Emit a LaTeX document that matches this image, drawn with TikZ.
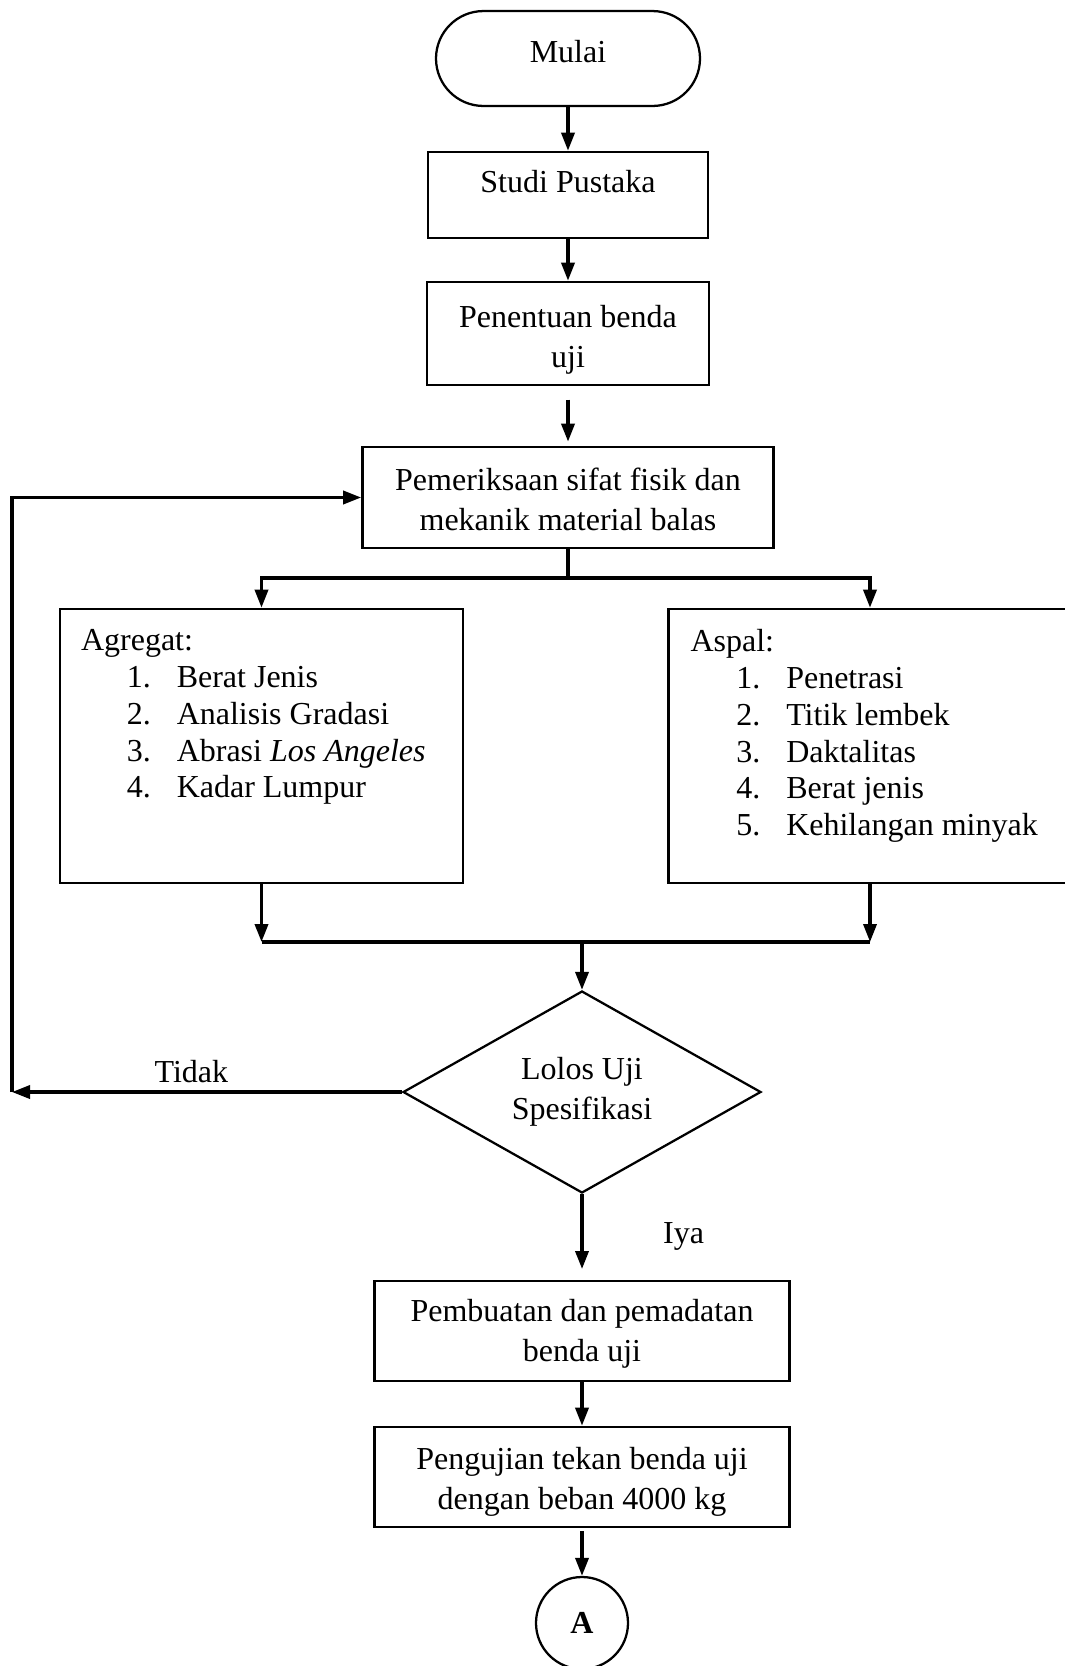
\documentclass[tikz,border=0pt]{standalone}
\usepackage{fontspec}
\setmainfont{Liberation Serif}
\usetikzlibrary{arrows.meta,shapes.geometric,positioning}
\newcommand{\tnr}{\fontsize{12}{15}\selectfont}
\newcommand{\butir}[2]{\hspace*{17.2pt}#1.\hspace{9.7pt}#2}

\begin{document}
\begin{tikzpicture}[x=0.375pt,y=-0.375pt,>={Triangle[length=6.75pt,width=4.9pt]},
  proc/.style={draw,line width=1pt,align=center,font=\tnr,inner sep=0pt},
  term/.style={draw,line width=0.85pt,rounded corners=17.8pt,minimum width=99pt,minimum height=35.6pt,font=\tnr},
  decide/.style={draw,diamond,aspect=1.77,line width=0.85pt,minimum width=134.25pt,minimum height=75.75pt,inner sep=0pt,align=center,font=\tnr},
  listbox/.style={draw,line width=1pt,minimum width=151.1pt,minimum height=102.75pt},
  listtext/.style={anchor=north west,inner sep=0pt,align=left,font=\fontsize{12}{13.8}\selectfont},
  conn/.style={->,line width=1.25pt}]
\useasboundingbox (0,0) rectangle (1065,1666);
\node[term,text depth=5pt] (mulai) at (568,58.5) {Mulai};
\node[proc,minimum width=105pt,minimum height=32.25pt,text depth=10.5pt] (studi) at (568,195) {Studi Pustaka};
\node[proc,minimum width=105.75pt,minimum height=38.6pt,text height=28pt] (tentu) at (568,333.5) {Penentuan benda\\uji};
\node[proc,minimum width=154.1pt,minimum height=37.9pt,text height=24.8pt] (periksa) at (568,497.5) {Pemeriksaan sifat fisik dan\\mekanik material balas};
\node[listbox] (agregat) at (261.5,746) {};
\node[listbox] (aspal) at (870,746) {};
\node[listtext] (isiagregat) at (80.5,629) {Agregat:\\\butir{1}{Berat Jenis}\\\butir{2}{Analisis Gradasi}\\\butir{3}{Abrasi \textit{Los Angeles}}\\\butir{4}{Kadar Lumpur}};
\node[listtext] (isiaspal) at (690,629) {Aspal:\\\butir{1}{Penetrasi}\\\butir{2}{Titik lembek}\\\butir{3}{Daktalitas}\\\butir{4}{Berat jenis}\\\butir{5}{Kehilangan minyak}};
\node[decide] (lolos) at (582,1092) {Lolos Uji\\Spesifikasi};
\node[proc,minimum width=155.6pt,minimum height=37.5pt,text height=25.6pt] (buat) at (582,1331) {Pembuatan dan pemadatan\\benda uji};
\node[proc,minimum width=155.6pt,minimum height=37.5pt,text height=27.2pt] (uji) at (582,1477) {Pengujian tekan benda uji\\dengan beban 4000 kg};
\node[draw,circle,line width=0.85pt,minimum size=34.5pt,inner sep=0pt,font=\tnr\bfseries] (A) at (582,1623) {A};
\coordinate (bagi) at (568,578);
\coordinate (gabung) at (582,942);
\coordinate (balik) at (12,1092);

\draw[conn] (mulai) -- (studi);
\draw[conn] (studi) -- (tentu);
\draw[conn,shorten <=5pt,shorten >=1.5pt] (tentu) -- (periksa);
\draw[line width=1.25pt] (periksa) -- (bagi);
\draw[conn] (bagi) -| (agregat);
\draw[conn] (bagi) -| (aspal);
\draw[conn] (agregat) -- (agregat |- gabung);
\draw[conn] (aspal) -- (aspal |- gabung);
\draw[line width=1.25pt] (agregat |- gabung) -- (aspal |- gabung);
\draw[conn] (gabung) -- (lolos);
\draw[conn] (lolos) -- (balik) node[pos=0.54,above,inner sep=2.8pt,font=\tnr]{Tidak};
\draw[conn] (balik) |- (periksa);
\draw[conn,shorten >=4pt] (lolos) -- (buat) node[midway,right=26.5pt,font=\tnr]{Iya};
\draw[conn] (buat) -- (uji);
\draw[conn,shorten <=1pt] (uji) -- (A);
\end{tikzpicture}
\end{document}
